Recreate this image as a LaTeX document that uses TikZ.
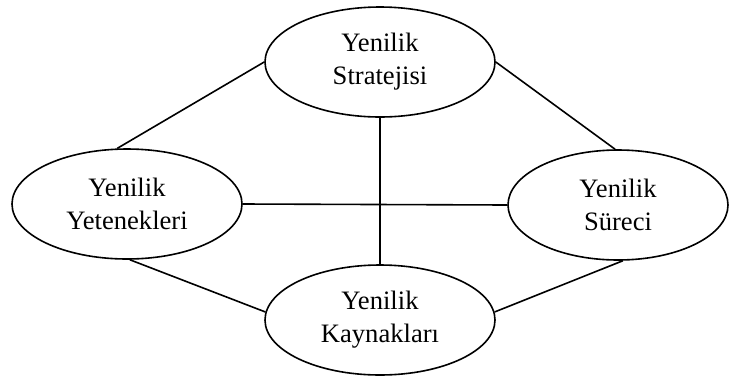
\documentclass[tikz,border=0pt]{standalone}
\usepackage{fontspec}
\setmainfont{Liberation Serif}
\newfontfamily\timesfont{Liberation Serif}
\usetikzlibrary{shapes.geometric}

\begin{document}
\begin{tikzpicture}[x=0.5pt,y=-0.5pt]
      \tikzset{oval/.style={ellipse,draw=black,line width=0.8pt,minimum width=115pt,minimum height=55pt,inner sep=0pt,align=center,font=\timesfont\fontsize{13.3}{16.5}\selectfont}}
      \useasboundingbox (0,0) rectangle (729,376);
      \node (strat) [oval] at (380,62) {Yenilik\\Stratejisi};
      \node (yet) [oval] at (127,204) {Yenilik\\Yetenekleri};
      \node (sur) [oval, minimum width=110pt] at (618,205) {Yenilik\\Süreci};
      \node (kayn) [oval] at (380,320) {Yenilik\\Kaynakları};
      \draw [line width=0.8pt] (strat.west) -- (yet.100);
      \draw [line width=0.8pt] (strat.east) -- (sur.93);
      \draw [line width=0.8pt] (yet.273) -- (kayn.176);
      \draw [line width=0.8pt] (sur.275) -- (kayn.4);
      \draw [line width=0.8pt] (strat.south) -- (kayn.north);
      \draw [line width=0.8pt] (yet.east) -- (sur.west);
    \end{tikzpicture}
\end{document}
